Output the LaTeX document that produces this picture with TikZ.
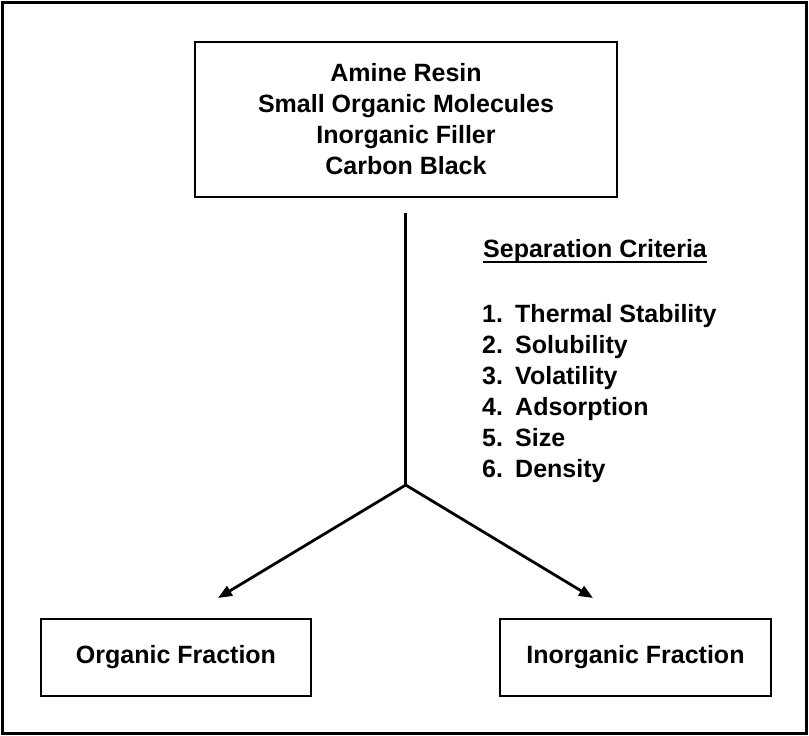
\documentclass[tikz,border=0pt]{standalone}
\usepackage{fontspec}
\setmainfont{Liberation Sans}
\usetikzlibrary{arrows.meta}
\tikzset{
  txt/.style={font=\fontsize{25}{31}\selectfont\bfseries},
  boxnode/.style={draw=black, line width=1.8pt, txt, align=center, inner sep=0pt},
  item/.style={txt, anchor=base west, inner sep=0pt},
  conn/.style={draw=black, line width=2.8pt},
  arr/.style={conn, -{Triangle[length=14pt,width=11pt]}},
}
\begin{document}
\begin{tikzpicture}[x=1pt,y=-1pt]
\useasboundingbox (0,0) rectangle (809,736);
\draw[line width=3pt] (2.5,2.5) rectangle (806,733);

\node[boxnode, minimum width=422pt, minimum height=155pt] (top) at (406,119.5)
  {Amine Resin\\Small Organic Molecules\\Inorganic Filler\\Carbon Black};

\node[boxnode, minimum width=270pt, minimum height=77pt] (org) at (176,657.5) {Organic Fraction};
\node[boxnode, minimum width=271pt, minimum height=77pt] (inorg) at (635.5,657.5) {Inorganic Fraction};

\coordinate (start) at (405.7,213);
\coordinate (j) at (405.7,485);
\coordinate (lt) at (218,598);
\coordinate (rt) at (593,598);

\draw[conn] (start) -- (j);
\draw[arr] (j) -- (lt);
\draw[arr] (j) -- (rt);

\node[item] (sc) at (483,257) {Separation Criteria};
\draw[line width=2pt] ([yshift=-5pt]sc.base west) -- ([yshift=-5pt]sc.base east);

\node[item] (c1) at (482,322) {\makebox[33pt][l]{1.}Thermal Stability};
\node[item] (c2) at (482,353) {\makebox[33pt][l]{2.}Solubility};
\node[item] (c3) at (482,384) {\makebox[33pt][l]{3.}Volatility};
\node[item] (c4) at (482,415) {\makebox[33pt][l]{4.}Adsorption};
\node[item] (c5) at (482,446) {\makebox[33pt][l]{5.}Size};
\node[item] (c6) at (482,477) {\makebox[33pt][l]{6.}Density};
\end{tikzpicture}
\end{document}
